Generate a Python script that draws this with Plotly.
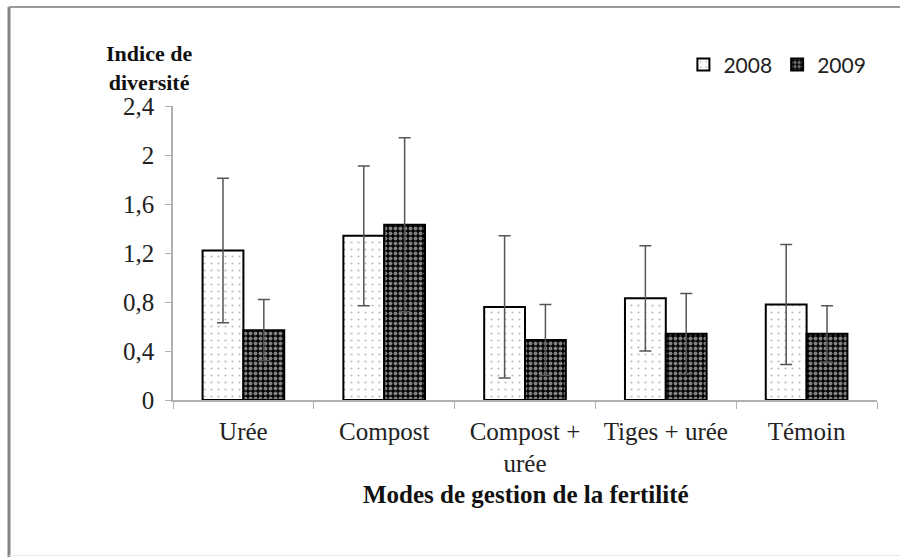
import plotly.graph_objects as go

categories = ["Urée", "Compost", "Compost +<br>urée", "Tiges + urée", "Témoin"]
series_names = ["2008", "2009"]
values_2008 = [1.22, 1.34, 0.76, 0.83, 0.78]
errors_2008 = [0.59, 0.57, 0.58, 0.43, 0.49]
values_2009 = [0.57, 1.43, 0.49, 0.54, 0.54]
errors_2009 = [0.25, 0.71, 0.29, 0.33, 0.23]
y_ticks = [0, 0.4, 0.8, 1.2, 1.6, 2.0, 2.4]
y_tick_labels = ["0", "0,4", "0,8", "1,2", "1,6", "2", "2,4"]

SERIF = "Liberation Serif, Times New Roman, serif"

fig = go.Figure()
fig.add_trace(go.Bar(
    name=series_names[0], x=categories, y=values_2008,
    error_y=dict(type="data", array=errors_2008, visible=True,
                 color="#555555", thickness=1.5, width=6),
    marker=dict(color="white", line=dict(color="black", width=2),
                pattern=dict(shape=".", fgcolor="#7a7a7a", bgcolor="white",
                             size=7, solidity=0.08)),
))
fig.add_trace(go.Bar(
    name=series_names[1], x=categories, y=values_2009,
    error_y=dict(type="data", array=errors_2009, visible=True,
                 color="#555555", thickness=1.5, width=6),
    marker=dict(color="black", line=dict(color="black", width=2),
                pattern=dict(shape=".", fgcolor="white", bgcolor="black",
                             size=5, solidity=0.5)),
))

fig.update_layout(
    width=900, height=557,
    margin=dict(l=173, r=23, t=106, b=157),
    paper_bgcolor="white", plot_bgcolor="white",
    barmode="group", bargap=0.42, bargroupgap=0,
    font=dict(family=SERIF, size=25, color="#222222"),
    showlegend=True,
    legend=dict(orientation="h", x=0.725, xanchor="left", y=1.14, yanchor="middle",
                font=dict(family="Lato, sans-serif", size=21, color="#222222"),
                itemwidth=30, bgcolor="rgba(0,0,0,0)", traceorder="normal"),
    xaxis=dict(showline=True, linecolor="#b0b0b0", linewidth=1.5,
               ticks="outside", tickson="boundaries", ticklen=7, tickcolor="#b0b0b0",
               showgrid=False, zeroline=False, ticklabelstandoff=8, tickangle=0,
               tickfont=dict(family=SERIF, size=25, color="#222222")),
    yaxis=dict(range=[0, 2.4], tickvals=y_ticks, ticktext=y_tick_labels,
               showline=True, linecolor="#b0b0b0", linewidth=1.5,
               ticks="outside", ticklen=6, tickcolor="#b0b0b0",
               showgrid=False, zeroline=False, ticklabelstandoff=6,
               tickfont=dict(family=SERIF, size=25, color="#222222")),
    annotations=[
        dict(text="<b>Indice de<br>diversité</b>", xref="paper", yref="paper",
             x=-0.034, y=1.13, xanchor="center", yanchor="middle", showarrow=False,
             font=dict(family=SERIF, size=22, color="#111111")),
        dict(text="<b>Modes de gestion de la fertilité</b>", xref="paper", yref="paper",
             x=0.501, y=-0.323, xanchor="center", yanchor="middle", showarrow=False,
             font=dict(family=SERIF, size=25, color="#111111")),
    ],
    shapes=[
        dict(type="line", xref="paper", yref="paper", x0=(9 - 173) / 704, x1=(9 - 173) / 704,
             y0=(400 - 7) / 294, y1=(400 - 557) / 294, line=dict(color="#858585", width=3)),
        dict(type="line", xref="paper", yref="paper", x0=(9 - 173) / 704, x1=(905 - 173) / 704,
             y0=(400 - 7) / 294, y1=(400 - 7) / 294, line=dict(color="#9a9a9a", width=2)),
        dict(type="line", xref="paper", yref="paper", x0=(9 - 173) / 704, x1=(905 - 173) / 704,
             y0=(400 - 555.5) / 294, y1=(400 - 555.5) / 294, line=dict(color="#e6e6e6", width=1)),
    ],
)

fig.write_html("out.html", config={"displayModeBar": False},
               post_script="document.body.style.margin='0';document.body.style.overflow='hidden';")
